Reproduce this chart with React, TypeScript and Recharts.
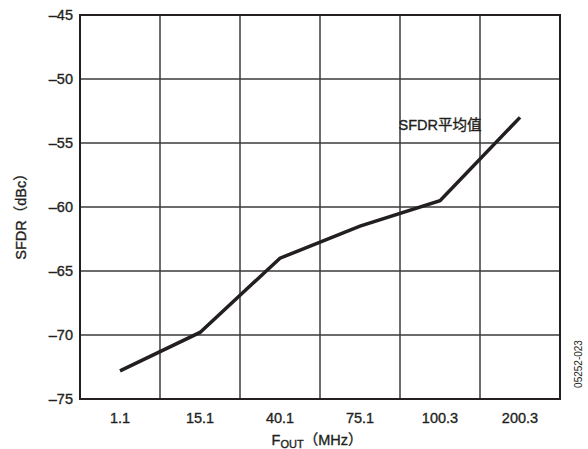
import { LineChart, Line, XAxis, YAxis, CartesianGrid, ReferenceArea, ReferenceDot } from 'recharts'

const categories = ['1.1', '15.1', '40.1', '75.1', '100.3', '200.3']
const sfdrValues = [-72.8, -69.8, -64.0, -61.5, -59.5, -53.0]
const yTicks = [-75, -70, -65, -60, -55, -50, -45]

const data = categories.map((fout, i) => ({ fout, sfdr: sfdrValues[i] }))

const ink = '#231f20'
const font = 'Arial, "Liberation Sans", "Noto Sans CJK SC", sans-serif'
const textStyle = { fill: ink, fontSize: 14.5, fontFamily: font, stroke: ink, strokeWidth: 0.35 }

const fmt = (v: number) => String(v).replace('-', '\u2013')

function XTitle(props: any) {
  const vb = props.viewBox
  const cx = vb.x + vb.width / 2
  return (
    <text x={cx - 3} y={vb.y + 46} textAnchor="middle" {...textStyle}>
      <tspan>F</tspan>
      <tspan fontSize={11} dy={3}>OUT</tspan>
      <tspan dy={-3}>{'\uff08MHz\uff09'}</tspan>
    </text>
  )
}

export default function App() {
  return (
    <div style={{ position: 'absolute', left: 0, top: 0, width: 588, height: 449, background: '#fff' }}>
      <LineChart width={588} height={449} data={data} margin={{ top: 15, right: 28, bottom: 0, left: 0 }}>
        <CartesianGrid
          stroke="#3a3a3a"
          strokeWidth={1.5}
          verticalCoordinatesGenerator={({ offset }: any) =>
            categories.map((_, i) => offset.left + ((i + 1) * offset.width) / categories.length)
          }
        />
        <XAxis
          dataKey="fout"
          scale="band"
          height={50}
          tickLine={false}
          axisLine={false}
          tickMargin={8}
          tick={textStyle}
          label={<XTitle />}
        />
        <YAxis
          width={80}
          domain={[-75, -45]}
          ticks={yTicks}
          tickFormatter={fmt}
          tickLine={false}
          axisLine={false}
          tickMargin={1}
          tick={textStyle}
          label={{
            value: 'SFDR\uff08dBc\uff09',
            angle: -90,
            position: 'insideLeft',
            dx: 16,
            dy: 6,
            style: { ...textStyle, textAnchor: 'middle' },
          }}
        />
        <ReferenceArea y1={-75} y2={-45} fill="none" stroke={ink} strokeWidth={2} ifOverflow="visible" />
        <ReferenceDot
          x="100.3"
          y={-53.6}
          r={0}
          stroke="none"
          label={{ value: 'SFDR平均值', position: 'center', ...textStyle }}
        />
        <Line
          type="linear"
          dataKey="sfdr"
          stroke={ink}
          strokeWidth={3.5}
          dot={false}
          isAnimationActive={false}
        />
      </LineChart>
      <div
        style={{
          position: 'absolute',
          left: 578,
          top: 364,
          transform: 'translate(-50%, -50%) rotate(-90deg)',
          fontFamily: font,
          fontSize: 10,
          color: ink,
          whiteSpace: 'nowrap',
        }}
      >
        05252-023
      </div>
    </div>
  )
}
